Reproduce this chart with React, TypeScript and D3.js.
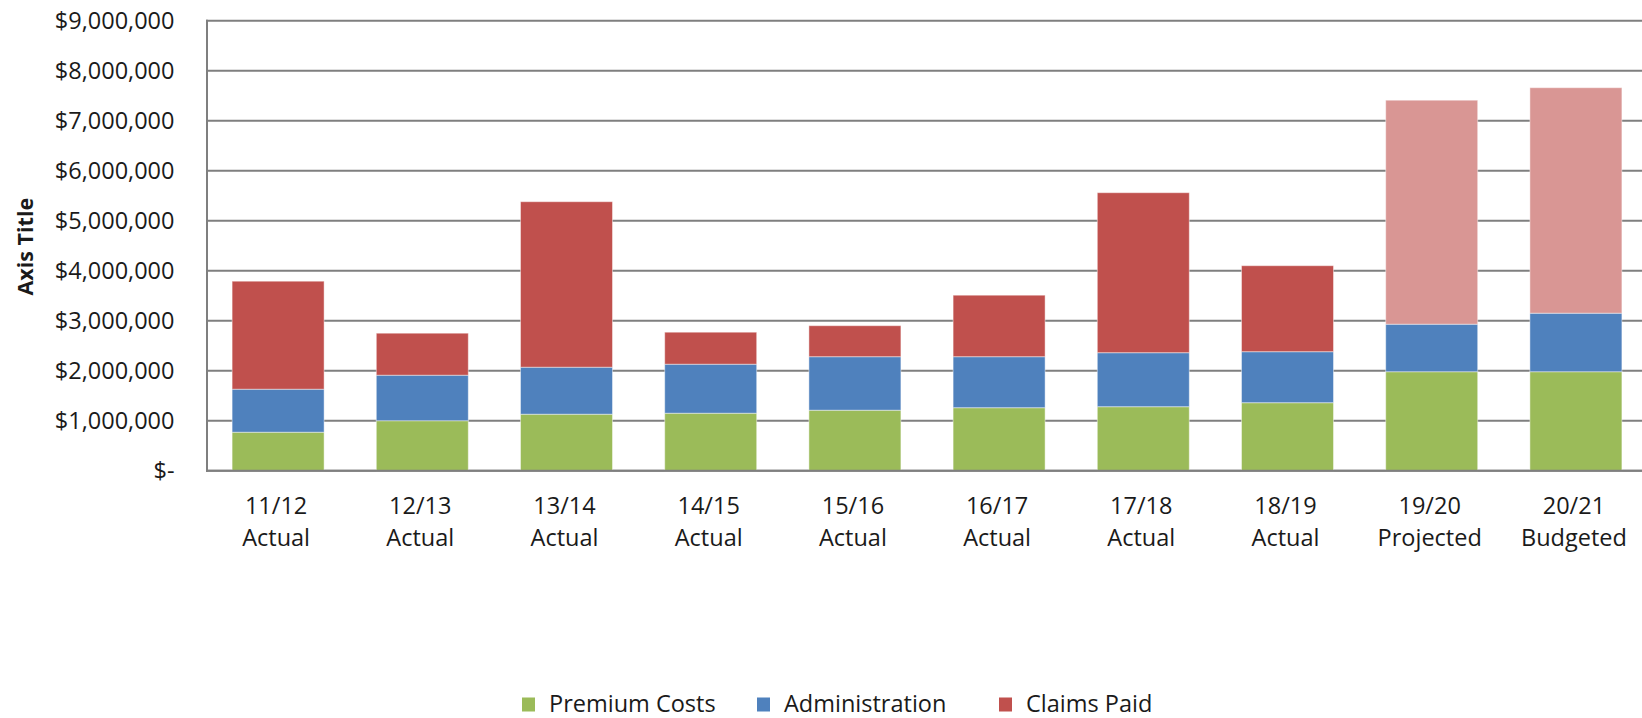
import * as d3 from 'd3';
import React from 'react';

// fiscal years and their status line
const years = ['11/12', '12/13', '13/14', '14/15', '15/16', '16/17', '17/18', '18/19', '19/20', '20/21'];
const status = ['Actual', 'Actual', 'Actual', 'Actual', 'Actual', 'Actual', 'Actual', 'Actual', 'Projected', 'Budgeted'];

// values in dollars
const premiumCosts = [770000, 1000000, 1130000, 1150000, 1210000, 1260000, 1280000, 1360000, 1980000, 1980000];
const administration = [860000, 910000, 940000, 980000, 1070000, 1020000, 1080000, 1020000, 950000, 1170000];
const claimsPaid = [2160000, 840000, 3310000, 640000, 620000, 1230000, 3200000, 1720000, 4480000, 4510000];

const yTicks = [0, 1000000, 2000000, 3000000, 4000000, 5000000, 6000000, 7000000, 8000000, 9000000];

const seriesNames = ['Premium Costs', 'Administration', 'Claims Paid'];
const seriesColors = ['#9BBB59', '#4F81BD', '#C0504D'];
const estimateClaimsColor = '#D99694';

const W = 1642;
const H = 718;
const margin = { top: 20.7, right: -6, bottom: 247.3, left: 206 };
const FONT = '"Open Sans", "Noto Sans", sans-serif';
const GRID = '#7f7f7f';

export default function App() {
  const innerRight = W - margin.right;
  const innerBottom = H - margin.bottom;

  const x = d3.scaleBand<string>().domain(years).range([margin.left, innerRight]).paddingInner(0.362).paddingOuter(0.181);
  const y = d3.scaleLinear().domain([0, 9000000]).range([innerBottom, margin.top]);

  const rows = years.map((yr, i) => ({
    year: yr,
    i,
    'Premium Costs': premiumCosts[i],
    Administration: administration[i],
    'Claims Paid': claimsPaid[i],
  }));
  const stacked = d3.stack<any>().keys(seriesNames)(rows);

  const fmt = (v: number) => (v === 0 ? '$-' : d3.format('$,')(v));

  const legendX = [522, 757, 999];

  return (
    <svg width={W} height={H} style={{ position: 'absolute', left: 0, top: 0, background: '#fff' }} fontFamily={FONT}>
      {/* gridlines */}
      {yTicks.map((t) => (
        <line key={t} x1={margin.left} x2={innerRight} y1={y(t)} y2={y(t)} stroke={GRID} strokeWidth={2} />
      ))}
      <line x1={margin.left + 1} x2={margin.left + 1} y1={y(9000000) - 1} y2={innerBottom + 1} stroke={GRID} strokeWidth={2} />

      {/* bars */}
      {stacked.map((layer, si) => (
        <g key={layer.key}>
          {layer.map((d, i) => {
            const isEstimate = status[i] !== 'Actual';
            const fill = si === 2 && isEstimate ? estimateClaimsColor : seriesColors[si];
            return (
              <rect
                key={years[i]}
                x={x(years[i])}
                y={y(d[1])}
                width={x.bandwidth()}
                height={y(d[0]) - y(d[1])}
                fill={fill}
                stroke="rgba(255,255,255,0.45)"
                strokeWidth={1}
              />
            );
          })}
        </g>
      ))}

      {/* bottom axis line on top of bars */}
      <line x1={margin.left} x2={innerRight} y1={innerBottom} y2={innerBottom} stroke={GRID} strokeWidth={2} />

      {/* y tick labels */}
      {yTicks.map((t) => (
        <text key={t} x={174.5} y={y(t)} dy="0.36em" textAnchor="end" fontSize={23.5} fill="#1a1a1a">
          {fmt(t)}
        </text>
      ))}

      {/* x labels */}
      {years.map((yr, i) => {
        const cx = (x(yr) as number) + x.bandwidth() / 2 - 2;
        return (
          <g key={yr}>
            <text x={cx} y={514} textAnchor="middle" fontSize={23.5} fill="#1a1a1a">
              {yr}
            </text>
            <text x={cx} y={546} textAnchor="middle" fontSize={23.5} fill="#1a1a1a">
              {status[i]}
            </text>
          </g>
        );
      })}

      {/* axis title */}
      <text transform={`translate(33.3, ${(margin.top + innerBottom) / 2 + 1}) rotate(-90)`} textAnchor="middle" fontSize={21.5} fontWeight="bold" fill="#1a1a1a">
        Axis Title
      </text>

      {/* legend */}
      {seriesNames.map((name, i) => (
        <g key={name} transform={`translate(${legendX[i]}, 0)`}>
          <rect x={0} y={697.5} width={13} height={14} fill={seriesColors[i]} />
          <text x={27} y={711.5} fontSize={23.5} fill="#1a1a1a">
            {name}
          </text>
        </g>
      ))}
    </svg>
  );
}
